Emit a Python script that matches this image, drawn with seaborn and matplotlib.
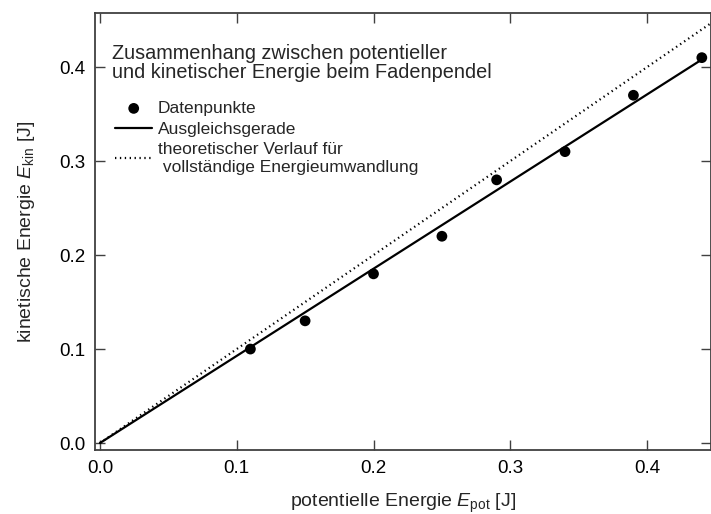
"""Kinetische vs. potentielle Energie beim Fadenpendel."""

import pandas as pd
import matplotlib.pyplot as plt
import seaborn as sns

# Messwerte
e_pot = [0.11, 0.15, 0.20, 0.25, 0.29, 0.34, 0.39, 0.44]
e_kin = [0.10, 0.13, 0.18, 0.22, 0.28, 0.31, 0.37, 0.41]

# Ausgleichsgerade (durch den Ursprung)
fit_x = [0.0, 0.44]
fit_y = [0.0, 0.408]

# theoretischer Verlauf E_kin = E_pot
theo_x = [0.0, 0.46]
theo_y = [0.0, 0.46]

x_ticks = [0.0, 0.1, 0.2, 0.3, 0.4]
y_ticks = [0.0, 0.1, 0.2, 0.3, 0.4]

if __name__ == '__main__':

	sns.set_style("ticks")
	plt.rcParams['font.family'] = ['Liberation Sans', 'DejaVu Sans']
	plt.rcParams['mathtext.fontset'] = 'custom'
	plt.rcParams['mathtext.rm'] = 'Liberation Sans'
	plt.rcParams['mathtext.it'] = 'Liberation Sans:italic'

	points = pd.DataFrame({'x': e_pot, 'y': e_kin})
	fit = pd.DataFrame({'x': fit_x, 'y': fit_y})
	theo = pd.DataFrame({'x': theo_x, 'y': theo_y})

	fig = plt.figure(figsize=(7.11, 5.14), dpi=100)
	ax = fig.add_axes([0.1336, 0.1245, 0.866, 0.8502])

	sns.lineplot(data=theo, x='x', y='y', ax=ax, color='black', lw=1.6,
		linestyle=(0, (0.6, 1.6)), label='theoretischer Verlauf für\n vollständige Energieumwandlung')
	sns.lineplot(data=fit, x='x', y='y', ax=ax, color='black', lw=1.6,
		label='Ausgleichsgerade')
	sns.scatterplot(data=points, x='x', y='y', ax=ax, color='black', s=60,
		edgecolor='none', label='Datenpunkte', zorder=3)

	ax.set_xlim(-0.0036, 0.4465)
	ax.set_ylim(-0.0074, 0.4575)
	ax.set_xticks(x_ticks)
	ax.set_yticks(y_ticks)
	ax.tick_params(direction='in', length=7, width=1, colors='#404040',
		labelcolor='black', labelsize=13.5, top=True, right=True, pad=7)
	for sp in ax.spines.values():
		sp.set_visible(True)
		sp.set_color('#404040')
		sp.set_linewidth(1.3)

	ax.set_xlabel(r'potentielle Energie $E_{\mathrm{pot}}$ [J]', fontsize=14, labelpad=11)
	ax.set_ylabel(r'kinetische Energie $E_{\mathrm{kin}}$ [J]', fontsize=14, labelpad=16)

	ax.text(0.027, 0.93, 'Zusammenhang zwischen potentieller\nund kinetischer Energie beim Fadenpendel',
		transform=ax.transAxes, fontsize=14.3, va='top', ha='left', linespacing=1.05)

	handles, labels = ax.get_legend_handles_labels()
	order = [2, 1, 0]
	leg = ax.legend([handles[i] for i in order], [labels[i] for i in order],
		loc='upper left', bbox_to_anchor=(0.022, 0.815), frameon=False,
		fontsize=12.5, handlelength=2.1, handletextpad=0.35, labelspacing=0.32,
		borderaxespad=0.0)
	for t in leg.get_texts():
		t.set_linespacing(1.2)

	plt.savefig('out.png', dpi=100)
	plt.close()
